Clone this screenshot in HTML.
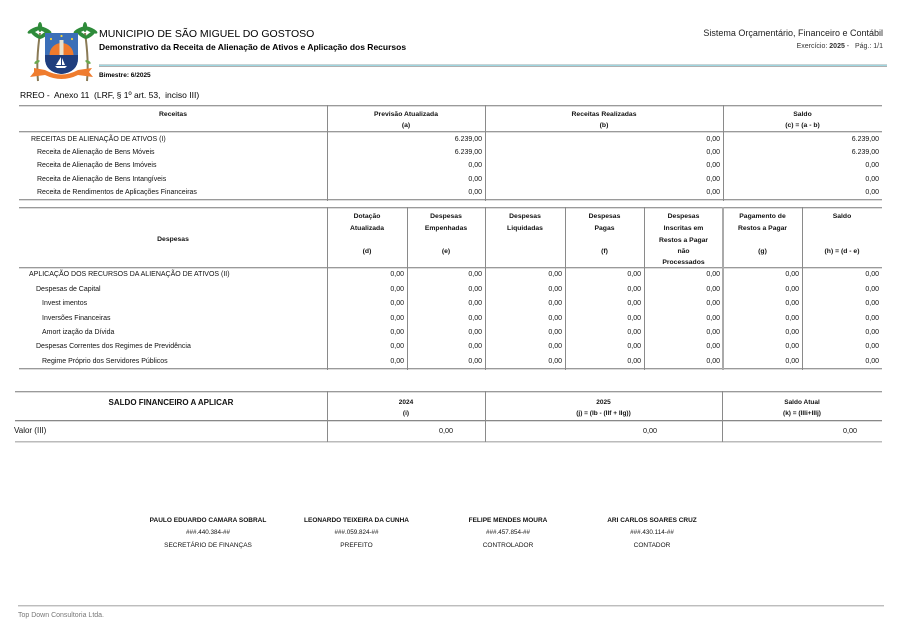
<!DOCTYPE html>
<html>
<head>
<meta charset="utf-8">
<style>
html,body{margin:0;padding:0;background:#fff;}
body{width:900px;height:637px;position:relative;overflow:hidden;font-family:"Liberation Sans",Arial,sans-serif;color:#111;}
.t{position:absolute;white-space:nowrap;line-height:10px;height:10px;font-size:7px;}
.b{font-weight:bold;}
.c{text-align:center;}
.r{text-align:right;}
.h{position:absolute;height:1px;background:#9a9a9a;}
.h2{position:absolute;height:1px;background:#dcdcdc;}
.v{position:absolute;width:1px;background:#8a8a8a;}
.wrap{position:absolute;left:0;width:900px;height:637px;}
</style>
</head>
<body>

<!-- Logo -->
<svg style="position:absolute;left:0;top:0" width="120" height="90" viewBox="0 0 120 90">
  <path d="M38 81 Q36 60 40 33" stroke="#8a7a55" stroke-width="2" fill="none"/>
  <path d="M87 81 Q89 60 85 33" stroke="#8a7a55" stroke-width="2" fill="none"/>
  <g fill="#2e8b3a">
    <ellipse cx="34" cy="30" rx="7" ry="2.2" transform="rotate(-25 34 30)"/>
    <ellipse cx="45" cy="30" rx="7" ry="2.2" transform="rotate(25 45 30)"/>
    <ellipse cx="36" cy="35" rx="6" ry="2" transform="rotate(35 36 35)"/>
    <ellipse cx="44" cy="35" rx="6" ry="2" transform="rotate(-35 44 35)"/>
    <ellipse cx="40" cy="27" rx="2.2" ry="5"/>
    <ellipse cx="80" cy="30" rx="7" ry="2.2" transform="rotate(-25 80 30)"/>
    <ellipse cx="91" cy="30" rx="7" ry="2.2" transform="rotate(25 91 30)"/>
    <ellipse cx="82" cy="35" rx="6" ry="2" transform="rotate(35 82 35)"/>
    <ellipse cx="90" cy="35" rx="6" ry="2" transform="rotate(-35 90 35)"/>
    <ellipse cx="85" cy="27" rx="2.2" ry="5"/>
  </g>
  <g fill="#6aa84f">
    <ellipse cx="37" cy="62" rx="3" ry="1.4" transform="rotate(-30 37 62)"/>
    <ellipse cx="88" cy="62" rx="3" ry="1.4" transform="rotate(30 88 62)"/>
  </g>
  <defs>
    <clipPath id="sh"><path d="M45 33 L78 33 L78 58 Q78 72 61.5 74 Q45 72 45 58 Z"/></clipPath>
  </defs>
  <g clip-path="url(#sh)">
    <rect x="44" y="32" width="36" height="43" fill="#3b6fb8"/>
    <circle cx="61.5" cy="55" r="12" fill="#f07a2c"/>
    <rect x="59.5" y="40" width="4" height="15" fill="#e8e2cf"/>
    <rect x="44" y="55" width="36" height="20" fill="#1f3e7e"/>
    <path d="M61 57 L61 65 L56 65 Z" fill="#fff"/>
    <path d="M62 58 L62 65 L65 65 Z" fill="#fff"/>
    <path d="M55 66 L67 66 L65 68 L57 68 Z" fill="#fff"/>
  </g>
  <g fill="#f3d23a">
    <circle cx="51" cy="39" r="1.1"/>
    <circle cx="61.5" cy="36" r="1.1"/>
    <circle cx="72" cy="39" r="1.1"/>
  </g>
  <path d="M34 68 L45 70 Q61.5 79 78 70 L92 68 L89 72 L93 77 L78 75 Q61.5 83 45 75 L30 77 L34 72 Z" fill="#ef7c2e"/>
</svg>

<!-- Header texts -->
<div class="t" style="left:99px;top:28px;font-size:10.5px;line-height:12px;height:12px;color:#000">MUNICIPIO DE SÃO MIGUEL DO GOSTOSO</div>
<div class="t b" style="left:99px;top:42px;font-size:8.5px;color:#000">Demonstrativo da Receita de Alienação de Ativos e Aplicação dos Recursos</div>
<div class="t r" style="right:17px;top:28px;font-size:9px;line-height:11px;height:11px;color:#222">Sistema Orçamentário, Financeiro e Contábil</div>
<div class="t r" style="right:17px;top:42px;font-size:7px;color:#333">Exercício: <b>2025</b> -&nbsp;&nbsp; Pág.: 1/1</div>
<div style="position:absolute;left:99px;top:64px;width:788px;height:1px;background:#c8d4d6"></div>
<div style="position:absolute;left:99px;top:65px;width:788px;height:1px;background:#9fd6e0"></div>
<div style="position:absolute;left:99px;top:66px;width:788px;height:1px;background:#b0b0b0"></div>
<div class="t b" style="left:99px;top:70.5px;font-size:6.5px;color:#000">Bimestre: 6/2025</div>
<div class="t" style="left:20px;top:90px;font-size:8.5px;color:#000">RREO -&nbsp; Anexo 11&nbsp; (LRF, § 1º art. 53,&nbsp; inciso III)</div>

<!-- Table 1 lines -->
<div class="h" style="left:19px;top:105px;width:863px"></div>
<div class="h2" style="left:19px;top:106px;width:863px"></div>
<div class="h" style="left:19px;top:131px;width:863px"></div>
<div class="h2" style="left:19px;top:132px;width:863px"></div>
<div class="h" style="left:19px;top:199px;width:863px"></div>
<div class="h2" style="left:19px;top:200px;width:863px"></div>
<div class="v" style="left:327px;top:105px;height:96px"></div>
<div class="v" style="left:485px;top:105px;height:96px"></div>
<div class="v" style="left:723px;top:105px;height:96px"></div>

<div class="wrap" style="top:1.5px">
<div class="t b c" style="left:19px;width:308px;top:108px;font-size:6.8px">Receitas</div>
<div class="t b c" style="left:327px;width:158px;top:108px;font-size:6.8px">Previsão Atualizada</div>
<div class="t b c" style="left:327px;width:158px;top:119px;font-size:6.8px">(a)</div>
<div class="t b c" style="left:485px;width:238px;top:108px;font-size:6.8px">Receitas Realizadas</div>
<div class="t b c" style="left:485px;width:238px;top:119px;font-size:6.8px">(b)</div>
<div class="t b c" style="left:723px;width:159px;top:108px;font-size:6.8px">Saldo</div>
<div class="t b c" style="left:723px;width:159px;top:119px;font-size:6.8px">(c) = (a - b)</div>

<div class="t" style="left:31px;top:133px">RECEITAS DE ALIENAÇÃO DE ATIVOS (I)</div>
<div class="t" style="left:37px;top:146.5px">Receita de Alienação de Bens Móveis</div>
<div class="t" style="left:37px;top:159.5px">Receita de Alienação de Bens Imóveis</div>
<div class="t" style="left:37px;top:173px">Receita de Alienação de Bens Intangíveis</div>
<div class="t" style="left:37px;top:186px">Receita de Rendimentos de Aplicações Financeiras</div>

<div class="t r" style="right:418px;top:133px">6.239,00</div>
<div class="t r" style="right:180px;top:133px">0,00</div>
<div class="t r" style="right:21px;top:133px">6.239,00</div>
<div class="t r" style="right:418px;top:146.5px">6.239,00</div>
<div class="t r" style="right:180px;top:146.5px">0,00</div>
<div class="t r" style="right:21px;top:146.5px">6.239,00</div>
<div class="t r" style="right:418px;top:159.5px">0,00</div>
<div class="t r" style="right:180px;top:159.5px">0,00</div>
<div class="t r" style="right:21px;top:159.5px">0,00</div>
<div class="t r" style="right:418px;top:173px">0,00</div>
<div class="t r" style="right:180px;top:173px">0,00</div>
<div class="t r" style="right:21px;top:173px">0,00</div>
<div class="t r" style="right:418px;top:186px">0,00</div>
<div class="t r" style="right:180px;top:186px">0,00</div>
<div class="t r" style="right:21px;top:186px">0,00</div>
</div>

<!-- Table 2 lines -->
<div class="h" style="left:19px;top:207px;width:863px"></div>
<div class="h2" style="left:19px;top:208px;width:863px"></div>
<div class="h" style="left:19px;top:267px;width:863px"></div>
<div class="h2" style="left:19px;top:268px;width:863px"></div>
<div class="h" style="left:19px;top:368px;width:863px"></div>
<div class="h2" style="left:19px;top:369px;width:863px"></div>
<div class="v" style="left:327px;top:207px;height:163px"></div>
<div class="v" style="left:407px;top:207px;height:163px"></div>
<div class="v" style="left:485px;top:207px;height:163px"></div>
<div class="v" style="left:565px;top:207px;height:163px"></div>
<div class="v" style="left:644px;top:207px;height:163px"></div>
<div class="v" style="left:722px;top:207px;height:163px;width:2px;background:#aaa"></div>
<div class="v" style="left:802px;top:207px;height:163px"></div>

<div class="wrap" style="top:1px">
<div class="t b c" style="left:19px;width:308px;top:234px;font-size:6.8px">Despesas</div>

<div class="t b c" style="left:327px;width:80px;top:211px;font-size:6.8px">Dotação</div>
<div class="t b c" style="left:327px;width:80px;top:223px;font-size:6.8px">Atualizada</div>
<div class="t b c" style="left:327px;width:80px;top:246px;font-size:6.8px">(d)</div>

<div class="t b c" style="left:407px;width:78px;top:211px;font-size:6.8px">Despesas</div>
<div class="t b c" style="left:407px;width:78px;top:223px;font-size:6.8px">Empenhadas</div>
<div class="t b c" style="left:407px;width:78px;top:246px;font-size:6.8px">(e)</div>

<div class="t b c" style="left:485px;width:80px;top:211px;font-size:6.8px">Despesas</div>
<div class="t b c" style="left:485px;width:80px;top:223px;font-size:6.8px">Liquidadas</div>

<div class="t b c" style="left:565px;width:79px;top:211px;font-size:6.8px">Despesas</div>
<div class="t b c" style="left:565px;width:79px;top:223px;font-size:6.8px">Pagas</div>
<div class="t b c" style="left:565px;width:79px;top:246px;font-size:6.8px">(f)</div>

<div class="t b c" style="left:644px;width:79px;top:211px;font-size:6.8px">Despesas</div>
<div class="t b c" style="left:644px;width:79px;top:223px;font-size:6.8px">Inscritas em</div>
<div class="t b c" style="left:644px;width:79px;top:234.5px;font-size:6.8px">Restos a Pagar</div>
<div class="t b c" style="left:644px;width:79px;top:246px;font-size:6.8px">não</div>
<div class="t b c" style="left:644px;width:79px;top:257px;font-size:6.8px">Processados</div>

<div class="t b c" style="left:723px;width:79px;top:211px;font-size:6.8px">Pagamento de</div>
<div class="t b c" style="left:723px;width:79px;top:223px;font-size:6.8px">Restos a Pagar</div>
<div class="t b c" style="left:723px;width:79px;top:246px;font-size:6.8px">(g)</div>

<div class="t b c" style="left:802px;width:80px;top:211px;font-size:6.8px">Saldo</div>
<div class="t b c" style="left:802px;width:80px;top:246px;font-size:6.8px">(h) = (d - e)</div>

<div class="t" style="left:29px;top:269px">APLICAÇÃO DOS RECURSOS DA ALIENAÇÃO DE ATIVOS (II)</div>
<div class="t" style="left:36px;top:283.5px">Despesas de Capital</div>
<div class="t" style="left:42px;top:298px">Invest imentos</div>
<div class="t" style="left:42px;top:312.5px">Inversões Financeiras</div>
<div class="t" style="left:42px;top:327px">Amort ização da Dívida</div>
<div class="t" style="left:36px;top:341px">Despesas Correntes dos Regimes de Previdência</div>
<div class="t" style="left:42px;top:355.5px">Regime Próprio dos Servidores Públicos</div>

<div class="t r" style="right:496px;top:269px">0,00</div><div class="t r" style="right:418px;top:269px">0,00</div><div class="t r" style="right:338px;top:269px">0,00</div><div class="t r" style="right:259px;top:269px">0,00</div><div class="t r" style="right:180px;top:269px">0,00</div><div class="t r" style="right:101px;top:269px">0,00</div><div class="t r" style="right:21px;top:269px">0,00</div>
<div class="t r" style="right:496px;top:283.5px">0,00</div><div class="t r" style="right:418px;top:283.5px">0,00</div><div class="t r" style="right:338px;top:283.5px">0,00</div><div class="t r" style="right:259px;top:283.5px">0,00</div><div class="t r" style="right:180px;top:283.5px">0,00</div><div class="t r" style="right:101px;top:283.5px">0,00</div><div class="t r" style="right:21px;top:283.5px">0,00</div>
<div class="t r" style="right:496px;top:298px">0,00</div><div class="t r" style="right:418px;top:298px">0,00</div><div class="t r" style="right:338px;top:298px">0,00</div><div class="t r" style="right:259px;top:298px">0,00</div><div class="t r" style="right:180px;top:298px">0,00</div><div class="t r" style="right:101px;top:298px">0,00</div><div class="t r" style="right:21px;top:298px">0,00</div>
<div class="t r" style="right:496px;top:312.5px">0,00</div><div class="t r" style="right:418px;top:312.5px">0,00</div><div class="t r" style="right:338px;top:312.5px">0,00</div><div class="t r" style="right:259px;top:312.5px">0,00</div><div class="t r" style="right:180px;top:312.5px">0,00</div><div class="t r" style="right:101px;top:312.5px">0,00</div><div class="t r" style="right:21px;top:312.5px">0,00</div>
<div class="t r" style="right:496px;top:327px">0,00</div><div class="t r" style="right:418px;top:327px">0,00</div><div class="t r" style="right:338px;top:327px">0,00</div><div class="t r" style="right:259px;top:327px">0,00</div><div class="t r" style="right:180px;top:327px">0,00</div><div class="t r" style="right:101px;top:327px">0,00</div><div class="t r" style="right:21px;top:327px">0,00</div>
<div class="t r" style="right:496px;top:341px">0,00</div><div class="t r" style="right:418px;top:341px">0,00</div><div class="t r" style="right:338px;top:341px">0,00</div><div class="t r" style="right:259px;top:341px">0,00</div><div class="t r" style="right:180px;top:341px">0,00</div><div class="t r" style="right:101px;top:341px">0,00</div><div class="t r" style="right:21px;top:341px">0,00</div>
<div class="t r" style="right:496px;top:355.5px">0,00</div><div class="t r" style="right:418px;top:355.5px">0,00</div><div class="t r" style="right:338px;top:355.5px">0,00</div><div class="t r" style="right:259px;top:355.5px">0,00</div><div class="t r" style="right:180px;top:355.5px">0,00</div><div class="t r" style="right:101px;top:355.5px">0,00</div><div class="t r" style="right:21px;top:355.5px">0,00</div>
</div>

<!-- Table 3 -->
<div class="h" style="left:15px;top:391px;width:867px"></div>
<div class="h2" style="left:15px;top:392px;width:867px"></div>
<div class="h" style="left:15px;top:420px;width:867px;background:#888"></div>
<div class="h2" style="left:15px;top:421px;width:867px"></div>
<div class="h" style="left:15px;top:441px;width:867px;background:#bbb"></div>
<div class="h2" style="left:15px;top:442px;width:867px"></div>
<div class="v" style="left:327px;top:391px;height:51px"></div>
<div class="v" style="left:485px;top:391px;height:51px"></div>
<div class="v" style="left:722px;top:391px;height:51px"></div>

<div class="t b c" style="left:15px;width:312px;top:398px;font-size:8px">SALDO FINANCEIRO A APLICAR</div>
<div class="t b c" style="left:327px;width:158px;top:397.5px;font-size:6.5px">2024</div>
<div class="t b c" style="left:327px;width:158px;top:408.5px;font-size:6.5px">(i)</div>
<div class="t b c" style="left:485px;width:237px;top:397.5px;font-size:6.5px">2025</div>
<div class="t b c" style="left:485px;width:237px;top:408.5px;font-size:6.5px">(j) = (Ib - (IIf + IIg))</div>
<div class="t b c" style="left:722px;width:160px;top:397.5px;font-size:6.5px">Saldo Atual</div>
<div class="t b c" style="left:722px;width:160px;top:408.5px;font-size:6.5px">(k) = (IIIi+IIIj)</div>

<div class="t" style="left:14px;top:426px;font-size:8px">Valor (III)</div>
<div class="t r" style="right:447px;top:425.5px;font-size:7.2px">0,00</div>
<div class="t r" style="right:243px;top:425.5px;font-size:7.2px">0,00</div>
<div class="t r" style="right:43px;top:425.5px;font-size:7.2px">0,00</div>

<!-- Signatures -->
<div class="t b c" style="left:128px;width:160px;top:515.5px;font-size:6.5px">PAULO EDUARDO CAMARA SOBRAL</div>
<div class="t c" style="left:128px;width:160px;top:528px;font-size:6.3px">###.440.384-##</div>
<div class="t c" style="left:128px;width:160px;top:540.5px;font-size:6.5px">SECRETÁRIO DE FINANÇAS</div>

<div class="t b c" style="left:276px;width:161px;top:515.5px;font-size:6.5px">LEONARDO TEIXEIRA DA CUNHA</div>
<div class="t c" style="left:276px;width:161px;top:528px;font-size:6.3px">###.059.824-##</div>
<div class="t c" style="left:276px;width:161px;top:540.5px;font-size:6.5px">PREFEITO</div>

<div class="t b c" style="left:428px;width:160px;top:515.5px;font-size:6.5px">FELIPE MENDES MOURA</div>
<div class="t c" style="left:428px;width:160px;top:528px;font-size:6.3px">###.457.854-##</div>
<div class="t c" style="left:428px;width:160px;top:540.5px;font-size:6.5px">CONTROLADOR</div>

<div class="t b c" style="left:572px;width:160px;top:515.5px;font-size:6.5px">ARI CARLOS SOARES CRUZ</div>
<div class="t c" style="left:572px;width:160px;top:528px;font-size:6.3px">###.430.114-##</div>
<div class="t c" style="left:572px;width:160px;top:540.5px;font-size:6.5px">CONTADOR</div>

<!-- Footer -->
<div style="position:absolute;left:18px;top:605px;width:866px;height:1px;background:#bdbdbd"></div>
<div style="position:absolute;left:18px;top:606px;width:866px;height:1px;background:#e2e2e2"></div>
<div class="t" style="left:18px;top:610.5px;font-size:7px;color:#777">Top Down Consultoria Ltda.</div>

</body>
</html>
